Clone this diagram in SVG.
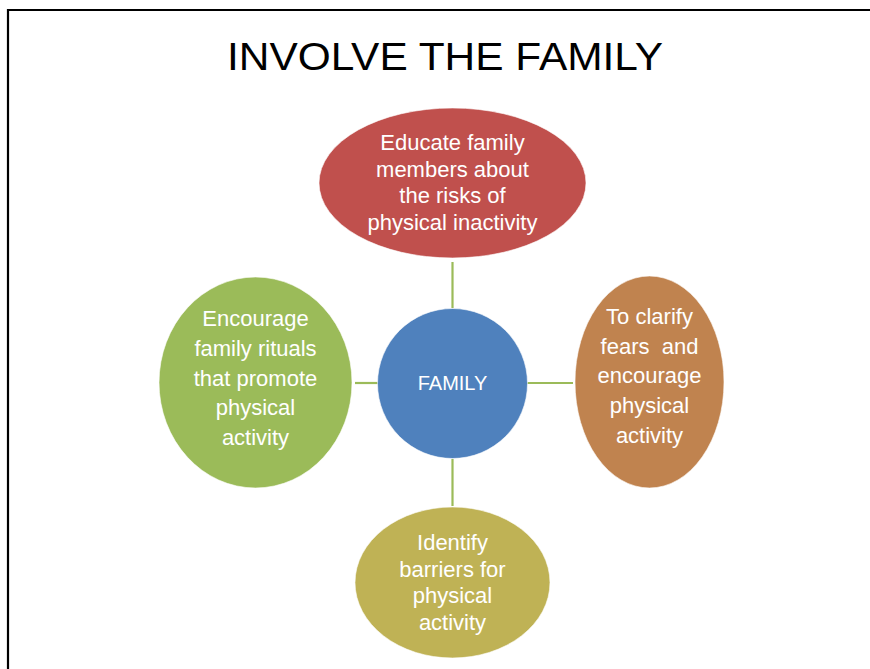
<svg xmlns="http://www.w3.org/2000/svg" width="870" height="669" viewBox="0 0 870 669">
<style>
.frame{stroke:#000;stroke-width:2.2;fill:none}
.conn{stroke:#9BBB59;stroke-width:2.2;fill:none}
.node{stroke:#ffffff;stroke-opacity:0.6;stroke-width:1}
.lbl{font-family:"Liberation Sans",Arial,sans-serif;font-size:22px;fill:#ffffff;text-anchor:middle}
.title{font-family:"Liberation Sans",Arial,sans-serif;font-size:38px;fill:#000000;text-anchor:middle}
</style>
<rect width="870" height="669" fill="#ffffff"/>
<path class="frame" d="M8,669 V10 H870"/>
<text class="title" x="445" y="70" textLength="436" lengthAdjust="spacingAndGlyphs">INVOLVE THE FAMILY</text>
<g id="connectors">
<line class="conn" x1="452.5" y1="262" x2="452.5" y2="308"/>
<line class="conn" x1="452.5" y1="459" x2="452.5" y2="506"/>
<line class="conn" x1="355" y1="383" x2="378" y2="383"/>
<line class="conn" x1="527" y1="383" x2="573" y2="383"/>
</g>
<g id="node-educate">
<ellipse class="node" cx="452.5" cy="183" rx="133.5" ry="75" fill="#C0504D"/>
<text class="lbl" x="452.5" y="150">Educate family</text>
<text class="lbl" x="452.5" y="176.7">members about</text>
<text class="lbl" x="452.5" y="203.3">the risks of</text>
<text class="lbl" x="452.5" y="230">physical inactivity</text>
</g>
<g id="node-family">
<circle class="node" cx="452.5" cy="383.5" r="75" fill="#4F81BD"/>
<text class="lbl" x="452.5" y="390" style="font-size:20px">FAMILY</text>
</g>
<g id="node-rituals">
<ellipse class="node" cx="255.5" cy="382.5" rx="96.5" ry="105.5" fill="#9BBB59"/>
<text class="lbl" x="255.5" y="326">Encourage</text>
<text class="lbl" x="255.5" y="356">family rituals</text>
<text class="lbl" x="255.5" y="385.5">that promote</text>
<text class="lbl" x="255.5" y="415">physical</text>
<text class="lbl" x="255.5" y="445">activity</text>
</g>
<g id="node-clarify">
<ellipse class="node" cx="649.5" cy="382" rx="74.5" ry="106" fill="#C0834F"/>
<text class="lbl" x="649.5" y="324.3">To clarify</text>
<text class="lbl" x="649.5" y="354.3" style="white-space:pre">fears  and</text>
<text class="lbl" x="649.5" y="383.3">encourage</text>
<text class="lbl" x="649.5" y="413.3">physical</text>
<text class="lbl" x="649.5" y="442.7">activity</text>
</g>
<g id="node-barriers">
<ellipse class="node" cx="452.5" cy="582.5" rx="97.5" ry="75.5" fill="#BFB255"/>
<text class="lbl" x="452.5" y="550">Identify</text>
<text class="lbl" x="452.5" y="576.7">barriers for</text>
<text class="lbl" x="452.5" y="603.3">physical</text>
<text class="lbl" x="452.5" y="630">activity</text>
</g>
</svg>
